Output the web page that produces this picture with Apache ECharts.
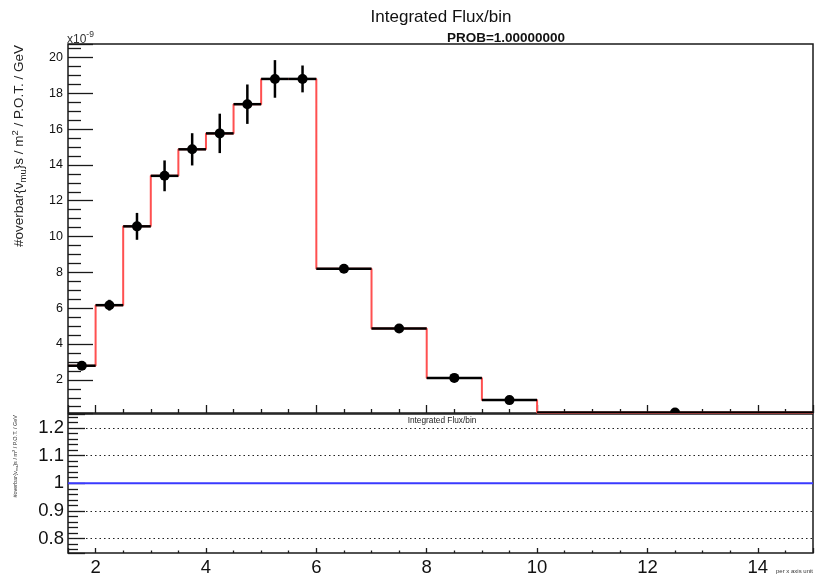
<!DOCTYPE html>
<html>
<head>
<meta charset="utf-8">
<script src="https://cdn.jsdelivr.net/npm/echarts@6/dist/echarts.min.js"></script>
<style>html,body{margin:0;padding:0;background:#fff;}#c{width:816px;height:577px;}</style>
</head>
<body>
<div id="c"></div>
<script>
// ---- data (flux in units of 1e-9) ----
const binLow  = [1.5, 2, 2.5, 3, 3.5, 4, 4.5, 5, 5.5, 6, 7, 8, 9, 10];
const binHigh = [2, 2.5, 3, 3.5, 4, 4.5, 5, 5.5, 6, 7, 8, 9, 10, 15];
const flux    = [2.79, 6.17, 10.57, 13.39, 14.87, 15.76, 17.39, 18.8, 18.8, 8.2, 4.87, 2.11, 0.87, 0.18];
const fluxErr = [0.15, 0.3, 0.75, 0.86, 0.9, 1.1, 1.1, 1.05, 0.75, 0.1, 0.05, 0.05, 0.03, 0];
const ratioX  = [1.5, 15];
const ratioY  = [1, 1];
const gridLinesRatio = [0.8, 0.9, 1.1, 1.2];

const FONT = '"Liberation Sans", Arial, Helvetica, sans-serif';

// histogram outline (step)
const stepData = binLow.map((lo, i) => [lo, flux[i]]);
stepData.push([binHigh[binHigh.length - 1], flux[flux.length - 1]]);
const markerData = binLow.map((lo, i) => [lo, binHigh[i], flux[i], fluxErr[i]]);

function evenInt(v) {
  const r = Math.round(v);
  return (Math.abs(v - r) < 1e-6 && r % 2 === 0) ? String(r) : '';
}
function tenth(v) {
  const r = Math.round(v * 10);
  if (Math.abs(v * 10 - r) > 1e-6) return '';
  if (r < 8 || r > 12) return '';
  return String(r / 10);
}

const yTitle = '{t|#overbar{ν}{s|mu}}s / m{p|2}{t| / P.O.T. / GeV}';

const chart = echarts.init(document.getElementById('c'), null, {renderer: 'canvas'});
const option = {
  animation: false,
  backgroundColor: '#fff',
  textStyle: {fontFamily: FONT},
  grid: [
    {left: 68, right: 3, top: 44, height: 369, show: true, borderColor: '#1a1a1a', borderWidth: 1.5, backgroundColor: 'transparent'},
    {left: 68, right: 3, top: 414, height: 145, show: true, borderColor: '#1a1a1a', borderWidth: 1.5, backgroundColor: 'transparent'}
  ],
  xAxis: [
    {type: 'value', gridIndex: 0, min: 1.5, max: 15, splitNumber: 7,
     axisLine: {show: false}, axisLabel: {show: false}, splitLine: {show: false},
     axisTick: {show: true, inside: true, length: 8, lineStyle: {color: '#1a1a1a', width: 1.3}},
     minorTick: {show: true, splitNumber: 4, length: 4, lineStyle: {color: '#1a1a1a', width: 1.3}}},
    {type: 'value', gridIndex: 1, min: 1.5, max: 15, splitNumber: 7,
     axisLine: {show: false}, splitLine: {show: false},
     axisLabel: {show: true, margin: 5, fontSize: 18.5, color: '#111', fontFamily: FONT, formatter: evenInt},
     axisTick: {show: true, inside: true, length: 5, lineStyle: {color: '#1a1a1a', width: 1.3}},
     minorTick: {show: true, splitNumber: 4, length: 2.5, lineStyle: {color: '#1a1a1a', width: 1.3}}}
  ],
  yAxis: [
    {type: 'value', gridIndex: 0, min: 0.15, max: 20.75, splitNumber: 10,
     axisLine: {show: false}, splitLine: {show: false},
     axisLabel: {show: true, margin: 5, fontSize: 12.5, color: '#111', fontFamily: FONT, formatter: evenInt},
     axisTick: {show: true, inside: true, length: 25, lineStyle: {color: '#1a1a1a', width: 1.3}},
     minorTick: {show: true, splitNumber: 4, length: 13, lineStyle: {color: '#1a1a1a', width: 1.3}}},
    {type: 'value', gridIndex: 1, min: 0.748, max: 1.25, splitNumber: 5,
     axisLine: {show: false},
     splitLine: {show: false},
     axisLabel: {show: true, margin: 4, fontSize: 18.5, color: '#111', fontFamily: FONT, formatter: tenth},
     axisTick: {show: true, inside: true, length: 17, lineStyle: {color: '#1a1a1a', width: 1.3}},
     minorTick: {show: true, splitNumber: 5, length: 10, lineStyle: {color: '#1a1a1a', width: 1.3}}}
  ],
  series: [
    {type: 'line', xAxisIndex: 0, yAxisIndex: 0, data: stepData, step: 'end', symbol: 'none', clip: true, z: 2,
     lineStyle: {color: '#ff5050', width: 2}},
    {type: 'custom', xAxisIndex: 0, yAxisIndex: 0, data: markerData, clip: true, z: 3,
     renderItem: function (params, api) {
       const lo = api.value(0), hi = api.value(1), v = api.value(2), e = api.value(3);
       const c = (lo + hi) / 2;
       const pL = api.coord([lo, v]), pR = api.coord([hi, v]);
       const pC = api.coord([c, v]), pT = api.coord([c, v + e]), pB = api.coord([c, v - e]);
       const st = {stroke: '#000', lineWidth: 2.5};
       return {type: 'group', children: [
         {type: 'line', shape: {x1: pL[0], y1: pL[1], x2: pR[0], y2: pR[1]}, style: st},
         {type: 'line', shape: {x1: pT[0], y1: pT[1], x2: pB[0], y2: pB[1]}, style: st},
         {type: 'circle', shape: {cx: pC[0], cy: pC[1], r: 5}, style: {fill: '#000'}}
       ]};
     }},
    {type: 'line', xAxisIndex: 1, yAxisIndex: 1, symbol: 'none', z: 1, silent: true,
     data: [],
     markLine: {symbol: 'none', silent: true, label: {show: false},
       lineStyle: {color: '#222', width: 1.2, type: [1.5, 3]},
       data: gridLinesRatio.map(v => ({yAxis: v}))}},
    {type: 'line', xAxisIndex: 1, yAxisIndex: 1, symbol: 'none', z: 3,
     data: ratioX.map((x, i) => [x, ratioY[i]]),
     lineStyle: {color: '#3a3aff', width: 2}}
  ],
  graphic: [
    {type: 'text', style: {text: 'Integrated Flux/bin', x: 441, y: 17, align: 'center', verticalAlign: 'middle', font: '17px ' + FONT, fill: '#111'}},
    {type: 'text', style: {text: 'PROB=1.00000000', x: 506, y: 38, align: 'center', verticalAlign: 'middle', font: 'bold 13.5px ' + FONT, fill: '#111'}},
    {type: 'text', style: {text: '{a|x10}{b|-9}', x: 67, y: 38, align: 'left', verticalAlign: 'middle', fill: '#333',
      rich: {a: {fontSize: 12, fontFamily: FONT, fill: '#333', verticalAlign: 'bottom', lineHeight: 15},
             b: {fontSize: 8.5, fontFamily: FONT, fill: '#333', verticalAlign: 'top', lineHeight: 15}}}},
    {type: 'text', x: 19, y: 45, rotation: Math.PI / 2,
     style: {text: yTitle, x: 0, y: 0, align: 'right', verticalAlign: 'middle', fill: '#222', fontSize: 13.5, fontFamily: FONT, lineHeight: 18,
      rich: {t: {fontSize: 13.5, fontFamily: FONT, fill: '#222', lineHeight: 18, verticalAlign: 'middle'},
             s: {fontSize: 9.5, fontFamily: FONT, fill: '#222', lineHeight: 18, verticalAlign: 'bottom'},
             p: {fontSize: 9.5, fontFamily: FONT, fill: '#222', lineHeight: 18, verticalAlign: 'top'}}}},
    {type: 'text', x: 15, y: 415, rotation: Math.PI / 2,
     style: {text: yTitle, x: 0, y: 0, align: 'right', verticalAlign: 'middle', fill: '#333', fontSize: 5.5, fontFamily: FONT, lineHeight: 7,
      rich: {t: {fontSize: 5.5, fontFamily: FONT, fill: '#333', lineHeight: 7, verticalAlign: 'middle'},
             s: {fontSize: 4, fontFamily: FONT, fill: '#333', lineHeight: 7, verticalAlign: 'bottom'},
             p: {fontSize: 4, fontFamily: FONT, fill: '#333', lineHeight: 7, verticalAlign: 'top'}}}},
    {type: 'text', style: {text: 'Integrated Flux/bin', x: 442, y: 421, align: 'center', verticalAlign: 'middle', font: '8.3px ' + FONT, fill: '#222'}},
    {type: 'text', style: {text: 'per x axis unit', x: 813, y: 571, align: 'right', verticalAlign: 'middle', font: '6px ' + FONT, fill: '#333'}}
  ]
};
chart.setOption(option);
</script>
</body>
</html>
